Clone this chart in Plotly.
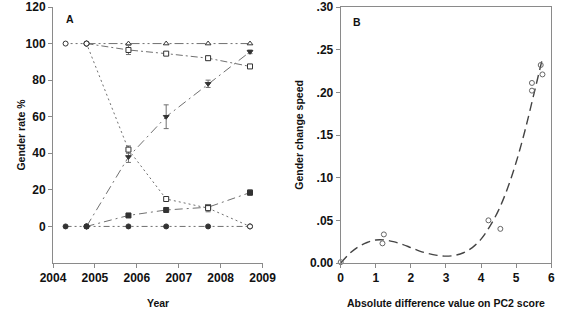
import plotly.graph_objects as go

# ---------------- Panel A data ----------------
years = [2004.3, 2004.8, 2005.8, 2006.7, 2007.7, 2008.7]
tri_open = [None, 100, 100, 100, 100, 100]
sq_open = [None, 100, 96.5, 94.5, 92, 87.5]
sq_open_err = [0, 0, 2.5, 0.8, 1.2, 0.8]
tri_down = [None, 0, 38, 60, 78, 95.5]
tri_down_err = [0, 0, 3, 6.5, 2, 1]
decl = [100, 100, 42, 15, 10, 0]
decl_err = [0, 0, 2, 1, 2, 0]
sq_fill = [None, 0, 6, 9, 10.5, 18.5]
sq_fill_err = [0, 0, 0.5, 0.5, 1.5, 1.5]
circ_fill = [0, 0, 0, 0, 0, 0]
a_yticks = [0, 20, 40, 60, 80, 100, 120]
a_xticks = [2004, 2005, 2006, 2007, 2008, 2009]

# ---------------- Panel B data ----------------
pc2_x = [0.0, 1.19, 1.23, 4.21, 4.55, 5.45, 5.45, 5.70, 5.75]
speed_y = [0.001, 0.023, 0.0335, 0.050, 0.040, 0.211, 0.202, 0.232, 0.221]
fit_x = [0, 0.25, 0.5, 0.75, 1.0, 1.25, 1.5, 1.75, 2.0, 2.25, 2.5, 2.75, 3.0,
         3.25, 3.5, 3.75, 4.0, 4.25, 4.5, 4.75, 5.0, 5.25, 5.5, 5.75]
fit_y = [0.0, 0.011, 0.019, 0.024, 0.027, 0.027, 0.025, 0.022, 0.018, 0.014,
         0.011, 0.009, 0.008, 0.009, 0.012, 0.018, 0.028, 0.043, 0.062, 0.087,
         0.118, 0.155, 0.197, 0.240]
b_yticks = [0, 0.05, 0.10, 0.15, 0.20, 0.25, 0.30]
b_yticktext = ["0.00", ".05", ".10", ".15", ".20", ".25", ".30"]
b_xticks = [0, 1, 2, 3, 4, 5, 6]

LINE = "#707070"
MK = "#333333"
AX = "#8a8a8a"
FONT = "Liberation Sans"

fig = go.Figure()


def add_series(y, err, symbols, fill, dash, size=5):
    fig.add_trace(go.Scatter(
        x=years, y=y, mode="lines+markers", connectgaps=False,
        line=dict(color=LINE, width=1, dash=dash),
        marker=dict(symbol=symbols, size=size, color=fill,
                    line=dict(color=MK, width=1)),
        error_y=dict(type="data", array=err, visible=err is not None,
                     color=LINE, thickness=1, width=2.5),
        xaxis="x", yaxis="y", showlegend=False, cliponaxis=False))


def syms(s):
    return ["circle", "circle", s, s, s, s]


# filled circles at 0
add_series(circ_fill, None, "circle", MK, "6px,3px,2px,3px,2px,3px")
# filled squares
add_series(sq_fill, sq_fill_err, syms("square"), MK, "8px,4px,2px,4px")
# filled inverted triangles
add_series(tri_down, tri_down_err, syms("triangle-down"), MK, "9px,4px,2px,4px")
# open triangles at 100
add_series(tri_open, None, syms("triangle-up"), "white", "9px,3px,2px,3px,2px,3px")
# open squares
add_series(sq_open, sq_open_err, syms("square"), "white", "7px,3px,2px,3px")
# declining series (open markers)
add_series(decl, decl_err, ["circle", "circle", "square", "square", "square", "circle"],
           "white", "2px,3px")

# ---------------- Panel B traces ----------------
fig.add_trace(go.Scatter(
    x=fit_x, y=fit_y, mode="lines", line=dict(color="#444444", width=1.4,
                                             dash="9px,5px", shape="spline"),
    xaxis="x2", yaxis="y2", showlegend=False))
fig.add_trace(go.Scatter(
    x=pc2_x, y=speed_y, mode="markers",
    marker=dict(symbol="circle-open", size=5, color="#666666", line=dict(width=1)),
    xaxis="x2", yaxis="y2", showlegend=False, cliponaxis=False))

tickfont = dict(family=FONT, size=12, color="#111111", weight="bold")
common = dict(showline=True, linecolor=AX, linewidth=1, ticks="outside",
              ticklen=4, tickcolor=AX, showgrid=False, zeroline=False,
              tickfont=tickfont)

fig.update_layout(
    width=570, height=311,
    margin=dict(l=0, r=0, t=7, b=48),
    paper_bgcolor="white", plot_bgcolor="white",
    xaxis=dict(domain=[42 / 570, 262 / 570], range=[2004, 2009],
               tickvals=a_xticks, anchor="y", **common),
    yaxis=dict(domain=[0, 1], range=[-20, 120], tickvals=a_yticks,
               anchor="x", **common),
    xaxis2=dict(domain=[344 / 570, 565 / 570], range=[0, 6], tickvals=b_xticks,
                anchor="y2", mirror=True, **common),
    yaxis2=dict(domain=[0, 1], range=[0, 0.30], tickvals=b_yticks,
                ticktext=b_yticktext, anchor="x2", mirror=True, **common),
)

titlefont = dict(family=FONT, size=10.5, color="#111111", weight="bold")
ann = [
    dict(text="A", x=60 / 570, y=(263 - 19) / 256, xanchor="center", yanchor="middle"),
    dict(text="B", x=361 / 570, y=(263 - 22) / 256, xanchor="center", yanchor="middle"),
    dict(text="Year", x=152 / 570, y=(263 - 303) / 256, xanchor="center", yanchor="middle"),
    dict(text="Absolute difference value on PC2 score", x=455 / 570,
         y=(263 - 303) / 256, xanchor="center", yanchor="middle"),
    dict(text="Gender rate %", x=8 / 570, y=(263 - 135) / 256, textangle=-90,
         xanchor="center", yanchor="middle"),
    dict(text="Gender change speed", x=300 / 570, y=(263 - 135) / 256, textangle=-90,
         xanchor="center", yanchor="middle"),
]
for a in ann:
    fig.add_annotation(xref="paper", yref="paper", showarrow=False,
                       font=titlefont, **a)

fig.write_html("out.html")
